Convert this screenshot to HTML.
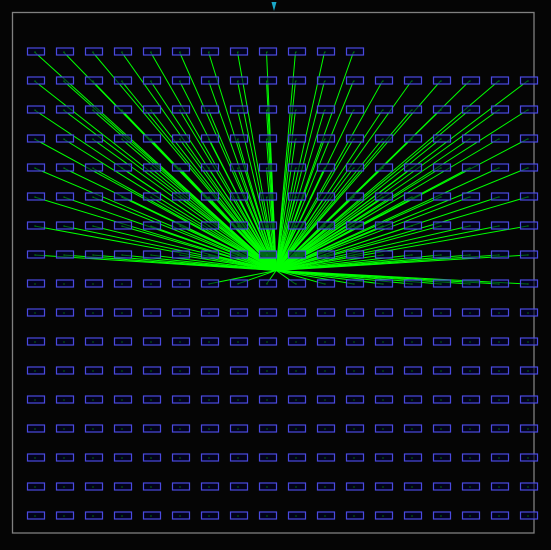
<!DOCTYPE html>
<html><head><meta charset="utf-8"><style>
html,body{margin:0;padding:0;background:#050505;}
svg{display:block;}
</style></head><body>
<svg id="chart" width="551" height="550" xmlns="http://www.w3.org/2000/svg">
<rect x="0" y="0" width="551" height="550" fill="#050505"/>
<rect x="12.5" y="12.5" width="521.5" height="520.5" fill="none" stroke="#808080" stroke-width="1.3"/>
<polygon points="271.5,2 276.5,2 274,11" fill="#1aa8c8"/>
<g id="lines"></g>
<g id="nodes"></g>
</svg>
<script>
// grid data
const rowCounts = [12,18,18,18,18,18,18,18,18,18,18,18,18,18,18,18,18];
const firstConnectedCol = [0,0,0,0,0,0,0,0,6,99,99,99,99,99,99,99,99];
const hub = {col: 8.3, row: 7.55};

const x0 = 35.5, y0 = 51.5, step = 29;
function xs(c){ return x0 + c*step; }
function ys(r){ return y0 + r*step; }
const NS = 'http://www.w3.org/2000/svg';
const gL = document.getElementById('lines');
const gN = document.getElementById('nodes');
const hx = xs(hub.col), hy = ys(hub.row);
for (let r = 0; r < rowCounts.length; r++) {
  for (let c = 0; c < rowCounts[r]; c++) {
    const cx = xs(c), cy = ys(r);
    if (c >= firstConnectedCol[r]) {
      const l = document.createElementNS(NS, 'line');
      
      
      l.setAttribute('x1', hx); l.setAttribute('y1', hy);
      l.setAttribute('x2', cx - 1); l.setAttribute('y2', cy + 0.5);
      l.setAttribute('stroke', '#00ff00'); l.setAttribute('stroke-width', '1');
      gL.appendChild(l);
    }
    const b = document.createElementNS(NS, 'rect');
    
    
    b.setAttribute('x', cx - 8); b.setAttribute('y', cy - 3.5);
    b.setAttribute('width', 17); b.setAttribute('height', 7);
    b.setAttribute('fill', '#000028'); b.setAttribute('fill-opacity', '0.6');
    b.setAttribute('stroke', '#4a4ae0'); b.setAttribute('stroke-width', '1.2');
    gN.appendChild(b);
    const d = document.createElementNS(NS, 'rect');
    
    
    d.setAttribute('x', cx - 1); d.setAttribute('y', cy);
    d.setAttribute('width', 1); d.setAttribute('height', 1);
    d.setAttribute('fill', '#00c000');
    gN.appendChild(d);
  }
}
</script>
</body></html>
